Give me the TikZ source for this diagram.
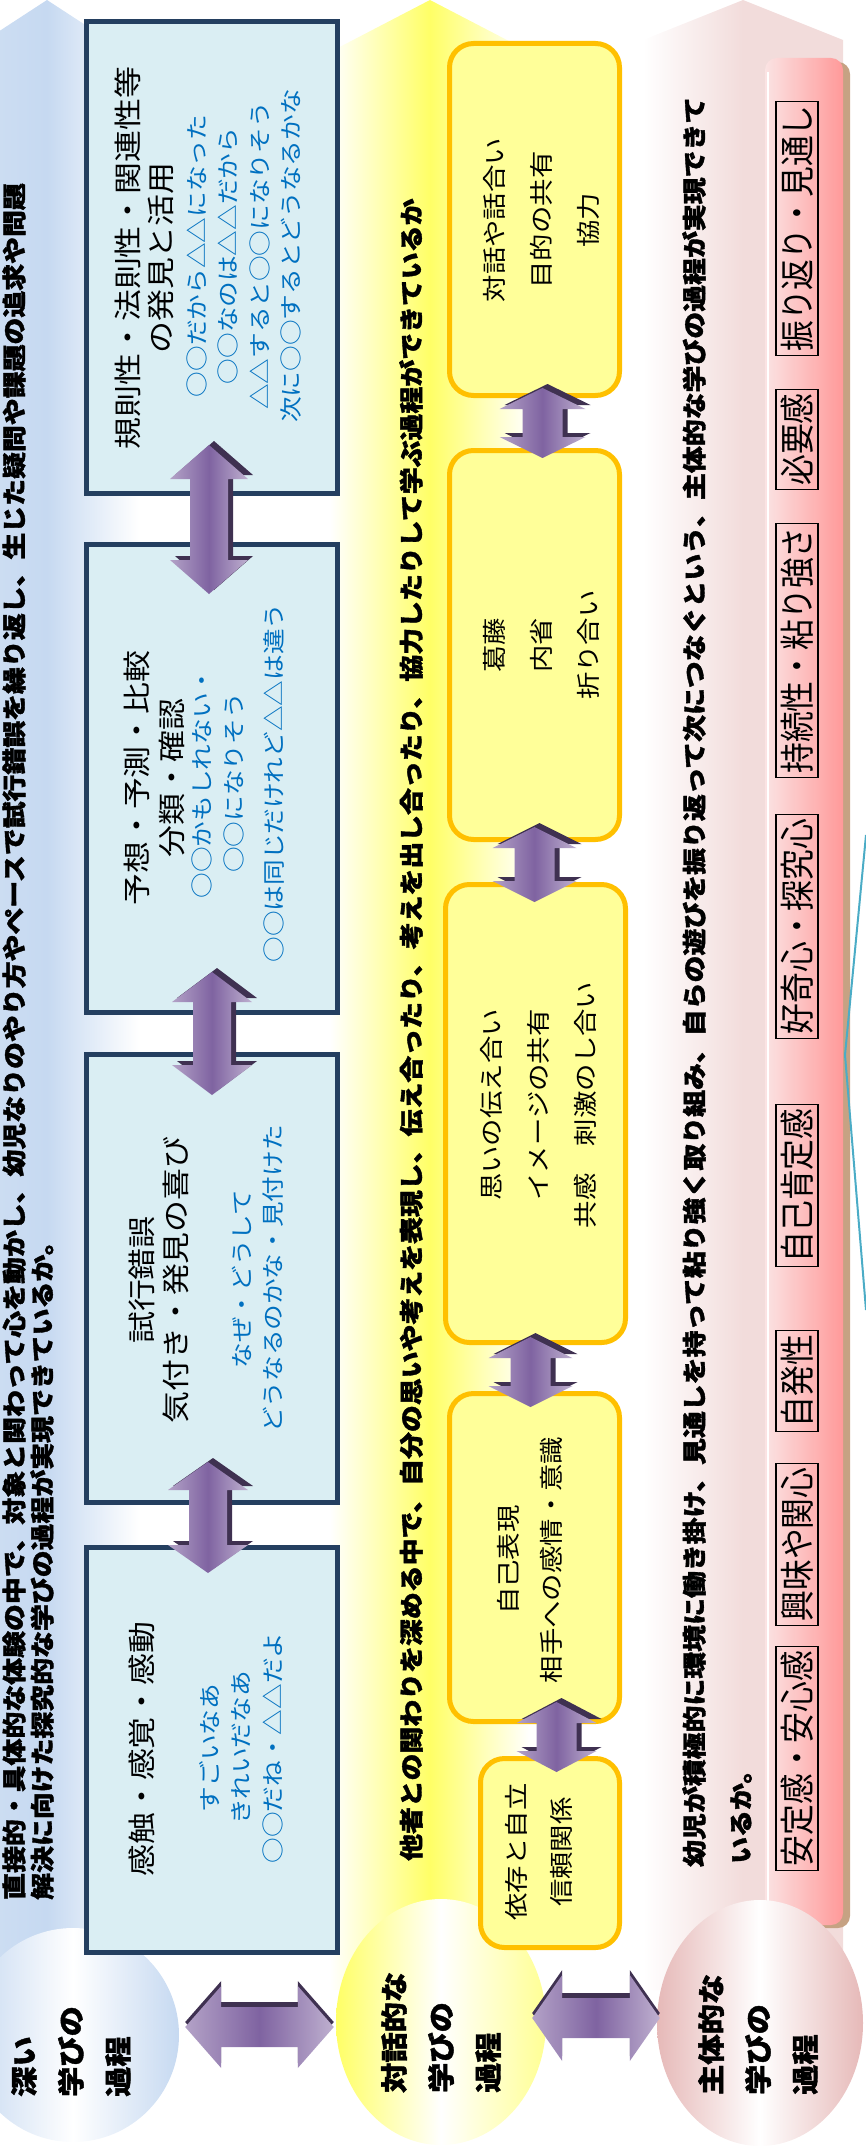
\documentclass[tikz,border=0pt]{standalone}
\usepackage{fontspec}
\newfontfamily\boxfont[FakeStretch=1.14]{Noto Sans CJK JP}
\newfontfamily\headfont[FakeStretch=1.12,BoldFeatures={FakeBold=1.5}]{Noto Sans CJK JP}
\newfontfamily\tagfont[FakeStretch=0.88]{Noto Sans CJK JP}
\usetikzlibrary{calc,shapes.geometric}

\definecolor{boxblue}{HTML}{DAEEF3}
\definecolor{lineblue}{HTML}{243F60}
\definecolor{noteblue}{HTML}{0070C0}
\definecolor{bandblue}{HTML}{C6D9F1}
\definecolor{boxyellow}{HTML}{FFFF99}
\definecolor{lineyellow}{HTML}{FFC000}
\definecolor{bandyellow}{HTML}{FFFF66}
\definecolor{bandpink}{HTML}{F2DCDB}
\definecolor{circpink}{HTML}{E6B9B8}
\definecolor{panelpink}{HTML}{FF9999}
\definecolor{panellight}{HTML}{FBE3E3}
\definecolor{paneltan}{HTML}{C6A283}
\definecolor{arrowlight}{HTML}{B3A2C7}
\definecolor{arrowmid}{HTML}{7F63A1}
\definecolor{arrowdark}{HTML}{3F3151}
\definecolor{lineteal}{HTML}{4BACC6}

\tikzset{
  bluebox/.style={draw=lineblue, line width=5pt, fill=boxblue, minimum width=251pt},
  yellowbox/.style={draw=lineyellow, line width=5pt, fill=boxyellow, rounded corners=24pt, minimum width=170pt},
  boxhead/.style={rotate=90, align=center, inner sep=0pt, font=\boxfont\fontsize{28}{33}\selectfont},
  boxnote/.style={rotate=90, align=center, inner sep=0pt, text=noteblue, font=\boxfont\fontsize{22.5}{31.5}\selectfont},
  yellowtext/.style={rotate=90, align=center, inner sep=0pt, font=\boxfont\fontsize{24}{47}\selectfont},
  rowhead/.style={rotate=90, anchor=west, inner sep=0pt, font=\headfont\bfseries\fontsize{24}{30}\selectfont},
  circtext/.style={rotate=90, anchor=west, align=left, inner sep=0pt, font=\headfont\bfseries\fontsize{27}{47}\selectfont},
  tagbox/.style={rotate=90, draw=black, line width=1.2pt, inner xsep=4pt, inner ysep=0pt, minimum height=42pt, font=\tagfont\fontsize{35}{35}\selectfont},
  arrowshade/.style={left color=arrowlight, right color=arrowlight!85!white, middle color=arrowmid},
}

% vertical double arrow: top end, bottom end, head length, head half width, shaft half width
\newcommand{\vdarrow}[5]{%
  \path[arrowshade, preaction={fill=arrowdark, transform canvas={shift={(5pt,4pt)}}}]
    let \p1=(#1), \p2=(#2) in
    (\x1,\y1) -- (\x1+#4pt,\y1-#3pt) -- (\x1+#5pt,\y1-#3pt) -- (\x1+#5pt,\y2+#3pt)
    -- (\x1+#4pt,\y2+#3pt) -- (\x1,\y2) -- (\x1-#4pt,\y2+#3pt) -- (\x1-#5pt,\y2+#3pt)
    -- (\x1-#5pt,\y1-#3pt) -- (\x1-#4pt,\y1-#3pt) -- cycle;
}
% horizontal double arrow: left end, right end, head length, head half width, shaft half width
\newcommand{\hdarrow}[5]{%
  \path[arrowshade, preaction={fill=arrowdark, transform canvas={shift={(0pt,5pt)}}}]
    let \p1=(#1), \p2=(#2) in
    (\x1,\y1) -- (\x1+#3pt,\y1+#4pt) -- (\x1+#3pt,\y1+#5pt) -- (\x2-#3pt,\y1+#5pt)
    -- (\x2-#3pt,\y1+#4pt) -- (\x2,\y1) -- (\x2-#3pt,\y1-#4pt) -- (\x2-#3pt,\y1-#5pt)
    -- (\x1+#3pt,\y1-#5pt) -- (\x1+#3pt,\y1-#4pt) -- cycle;
}

\begin{document}
\begin{tikzpicture}[x=1pt, y=-1pt]
  \useasboundingbox (0,0) rectangle (865,2154);
  % Draw the three band arrows
  \shade[left color=bandblue!80, right color=white, middle color=bandblue]
    (47,0) -- (139,60) -- (139,2000) -- (-45,2000) -- (-45,60) -- cycle;
  \shade[left color=white, right color=white, middle color=bandyellow]
    (430,0) -- (530,52) -- (530,1990) -- (330,1990) -- (330,52) -- cycle;
  \shade[left color=white, right color=bandpink, middle color=bandpink]
    (743,0) -- (843,40) -- (843,1990) -- (643,1990) -- (643,40) -- cycle;
  % Pink panel with its shadow
  \fill[paneltan, rounded corners=12pt] (771,62) rectangle (850,1928);
  \shade[left color=panellight, right color=panelpink, rounded corners=12pt] (765,58) rectangle (843,1925);
  \draw[white, line width=2pt] (768,72) -- (768,1910);
  \draw[lineteal, line width=2pt] (866,835) -- (845,1055) -- (866,1310);

  % Circles at the foot of each band
  \node[ellipse, minimum width=212pt, minimum height=214pt, left color=bandblue, right color=bandblue, middle color=white] (deep) at (73,2035) {};
  \node[ellipse, minimum width=210pt, minimum height=246pt, left color=bandyellow, right color=bandyellow!70, middle color=white] (dialog) at (441,2022) {};
  \node[ellipse, minimum width=206pt, minimum height=246pt, left color=circpink, right color=circpink, middle color=white] (agent) at (760,2023) {};

  % Blue boxes
  \node[bluebox, minimum height=472pt] (D) at (212,257.5) {};
  \node[bluebox, minimum height=468pt] (C) at (212,778.5) {};
  \node[bluebox, minimum height=448pt] (B) at (212,1278.5) {};
  \node[bluebox, minimum height=405pt] (A) at (212,1750) {};
  % Yellow boxes
  \node[yellowbox, minimum height=352pt] (Y5) at (534.5,219.5) {};
  \node[yellowbox, minimum height=389pt] (Y4) at (534.5,645) {};
  \node[yellowbox, minimum height=458pt, minimum width=180pt] (Y3) at (535.5,1113.5) {};
  \node[yellowbox, minimum height=328pt] (Y2) at (534.5,1557.5) {};
  \node[yellowbox, minimum height=189pt, minimum width=139pt] (Y1) at (550,1853) {};

  % Double arrows
  \vdarrow{$(D.south)+(-3,-51)$}{$(C.north)+(-3,52)$}{34}{39}{19}
  \vdarrow{$(C.south)+(0,-43)$}{$(B.north)+(0,43)$}{30}{40}{19}
  \vdarrow{$(B.south)+(-4,-43)$}{$(A.north)+(-4,28)$}{28}{40}{19}
  \vdarrow{$(Y5.south)+(8,-10)$}{$(Y4.north)+(8,10)$}{21}{43}{20}
  \vdarrow{$(Y4.south)+(0,-15)$}{$(Y3.north)+(0,20)$}{21}{42}{20}
  \vdarrow{$(Y3.south)+(-5,-8)$}{$(Y2.north)+(-5,16)$}{21}{42}{20}
  \vdarrow{$(Y2.south)+(22,-22)$}{$(Y1.north)+(22,16)$}{21}{40}{20}
  \hdarrow{$(deep.east)+(6,-8)$}{$(dialog.west)+(-2,5)$}{36}{41}{20}
  \hdarrow{$(dialog.east)+(-14,-4)$}{$(agent.west)+(3,-5)$}{30}{43}{20}

  % Band headings
  \node[rowhead] (h1a) at (14,1900) {直接的・具体的な体験の中で、対象と関わって心を動かし、幼児なりのやり方やペースで試行錯誤を繰り返し、生じた疑問や課題の追求や問題};
  \node[rowhead] (h1b) at (42,1900) {解決に向けた探究的な学びの過程が実現できているか。};
  \node[rowhead] (h2) at (411,1861) {他者との関わりを深める中で、自分の思いや考えを表現し、伝え合ったり、考えを出し合ったり、協力したりして学ぶ過程ができているか};
  \node[rowhead] (h3a) at (694,1867) {幼児が積極的に環境に働き掛け、見通しを持って粘り強く取り組み、自らの遊びを振り返って次につなぐという、主体的な学びの過程が実現できて};
  \node[rowhead] (h3b) at (741,1864) {いるか。};

  % Circle labels
  \node[circtext] (deep-t) at (71,2097) {深い\\学びの\\過程};
  \node[circtext] (dialog-t) at (441,2093) {対話的な\\学びの\\過程};
  \node[circtext] (agent-t) at (758,2095) {主体的な\\学びの\\過程};

  % Blue box texts
  \node[boxhead] (D-head) at (144.5,258) {規則性・法則性・関連性等\\の発見と活用};
  \node[boxnote] (D-note) at (244,256) {○○だから△△になった\\○○なのは△△だから\\△△すると○○になりそう\\次に○○するとどうなるかな};
  \node[boxhead, font=\boxfont\fontsize{28}{35}\selectfont] (C-head) at (154.5,778) {予想・予測・比較\\分類・確認};
  \node[boxnote] (C-note) at (238.5,783) {○○かもしれない・\\○○になりそう\\[9pt]○○は同じだけれど△△は違う};
  \node[boxhead, font=\boxfont\fontsize{28}{34}\selectfont] (B-head) at (159,1280) {試行錯誤\\気付き・発見の喜び};
  \node[boxnote] (B-note) at (257.5,1279) {なぜ・どうして\\どうなるのかな・見付けた};
  \node[boxhead] (A-head) at (142,1749) {感触・感覚・感動};
  \node[boxnote] (A-note) at (241,1748) {すごいなあ\\きれいだなあ\\○○だね・△△だよ};

  % Yellow box texts
  \node[yellowtext] (Y5-t) at (541,220) {対話や話合い\\目的の共有\\協力};
  \node[yellowtext] (Y4-t) at (541,645) {葛藤\\内省\\折り合い};
  \node[yellowtext] (Y3-t) at (538,1105) {思いの伝え合い\\イメージの共有\\共感　刺激のし合い};
  \node[yellowtext, font=\boxfont\fontsize{24}{43}\selectfont] (Y2-t) at (530,1560) {自己表現\\相手への感情・意識};
  \node[yellowtext, font=\boxfont\fontsize{24}{45}\selectfont] (Y1-t) at (539,1852) {依存と自立\\信頼関係};

  % Pink panel tags
  \node[tagbox] (tag1) at (797,228.5) {振り返り・見通し};
  \node[tagbox] (tag2) at (797,439.5) {必要感};
  \node[tagbox] (tag3) at (797,650.5) {持続性・粘り強さ};
  \node[tagbox] (tag4) at (797,926.5) {好奇心・探究心};
  \node[tagbox] (tag5) at (797,1185.5) {自己肯定感};
  \node[tagbox] (tag6) at (797,1381) {自発性};
  \node[tagbox] (tag7) at (797,1544.5) {興味や関心};
  \node[tagbox] (tag8) at (797,1758.5) {安定感・安心感};
\end{tikzpicture}
\end{document}
